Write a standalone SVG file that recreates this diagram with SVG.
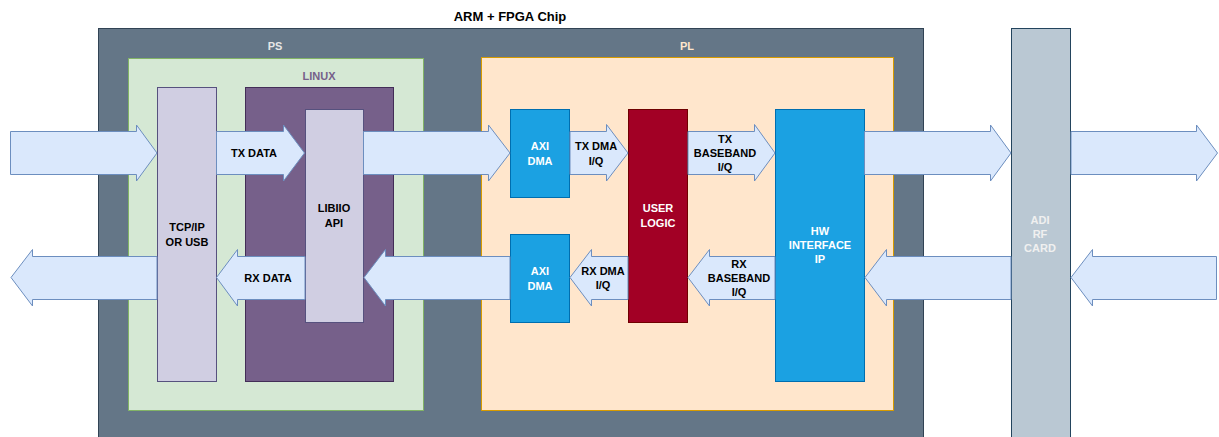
<svg xmlns="http://www.w3.org/2000/svg" width="1219" height="437" viewBox="0 0 1219 437">
<style>
text{font-family:"Liberation Sans",Arial,sans-serif;font-weight:bold;font-size:11px;text-anchor:middle;dominant-baseline:central}
.arrow{fill:#dae8fc;stroke:#6c8ebf;stroke-width:1}
.dark{fill:#000}
.white{fill:#fff}
</style>
<rect width="1219" height="437" fill="#fff"/>
<g id="chip">
<rect x="98.5" y="28.5" width="825" height="420" fill="#647687" stroke="#314354"/>
<text x="510" y="16" class="dark" style="font-size:13px">ARM + FPGA Chip</text>
</g>
<g id="ps">
<rect x="128.5" y="58.5" width="295" height="352" fill="#d5e8d4" stroke="#82b366"/>
<text x="275" y="46" fill="#e6e6e6">PS</text>
</g>
<g id="linux">
<rect x="245.5" y="87.5" width="148" height="294" fill="#76608a" stroke="#432d57"/>
<text x="319" y="76" fill="#76608a">LINUX</text>
</g>
<g id="tcpip">
<rect x="157.5" y="87.5" width="59" height="294" fill="#d0cee2" stroke="#56517e"/>
<text x="187" y="227" class="dark">TCP/IP</text>
<text x="187" y="242" class="dark">OR USB</text>
</g>
<g id="libiio">
<rect x="305.5" y="109.5" width="58" height="213" fill="#d0cee2" stroke="#56517e"/>
<text x="334" y="208" class="dark">LIBIIO</text>
<text x="334" y="223" class="dark">API</text>
</g>
<g id="pl">
<rect x="481.5" y="57.5" width="412" height="353" fill="#ffe6cc" stroke="#d79b00"/>
<text x="687" y="46" fill="#ffe6cc">PL</text>
</g>
<g id="axi_dma_tx">
<rect x="510.5" y="109.5" width="59" height="88" fill="#1ba1e2" stroke="#006eaf"/>
<text x="540" y="146" class="white">AXI</text>
<text x="540" y="161" class="white">DMA</text>
</g>
<g id="axi_dma_rx">
<rect x="510.5" y="234.5" width="59" height="88" fill="#1ba1e2" stroke="#006eaf"/>
<text x="540" y="271" class="white">AXI</text>
<text x="540" y="286" class="white">DMA</text>
</g>
<g id="user_logic">
<rect x="628.5" y="109.5" width="59" height="213" fill="#a20025" stroke="#6f0000"/>
<text x="658" y="208" class="white">USER</text>
<text x="658" y="223" class="white">LOGIC</text>
</g>
<g id="hw_interface">
<rect x="775.5" y="109.5" width="89" height="272" fill="#1ba1e2" stroke="#006eaf"/>
<text x="820" y="231" class="white">HW</text>
<text x="820" y="245" class="white">INTERFACE</text>
<text x="820" y="259" class="white">IP</text>
</g>
<g id="adi_rf_card">
<rect x="1011.5" y="28.5" width="59" height="420" fill="#bac8d3" stroke="#23445d"/>
<text x="1040" y="220" fill="#f0f0f0">ADI</text>
<text x="1040" y="234" fill="#f0f0f0">RF</text>
<text x="1040" y="248" fill="#f0f0f0">CARD</text>
</g>
<g id="connectors">
<!-- TX path (right-pointing) -->
<path class="arrow" d="M10.5 131.5 H136.5 V125 L157 153 L136.5 181 V174.5 H10.5 Z"/>
<path class="arrow" d="M216.5 131.5 H283.5 V125 L304.5 153 L283.5 181 V174.5 H216.5 Z"/>
<path class="arrow" d="M363.5 131.5 H488.5 V125 L510 153 L488.5 181 V174.5 H363.5 Z"/>
<path class="arrow" d="M570 131.5 H606.5 V124.5 L628 153 L606.5 181 V174.5 H570 Z"/>
<path class="arrow" d="M688 131.5 H754.5 V124.5 L775 153 L754.5 181 V174.5 H688 Z"/>
<path class="arrow" d="M864.5 131.5 H990.5 V125 L1011 153 L990.5 181 V174.5 H864.5 Z"/>
<path class="arrow" d="M1071 131.5 H1196.5 V125 L1217.5 153 L1196.5 181 V174.5 H1071 Z"/>
<!-- RX path (left-pointing) -->
<path class="arrow" d="M1216.5 256.5 H1092.5 V249.5 L1071 277.5 L1092.5 306 V299.5 H1216.5 Z"/>
<path class="arrow" d="M1011 256.5 H886.5 V249.5 L865 277.5 L886.5 306 V299.5 H1011 Z"/>
<path class="arrow" d="M775 256.5 H709.5 V249.5 L688 277.5 L709.5 306 V299.5 H775 Z"/>
<path class="arrow" d="M628 256.5 H591.5 V249.5 L570 277.5 L591.5 306 V299.5 H628 Z"/>
<path class="arrow" d="M510 256.5 H385.5 V249.5 L364 277.5 L385.5 306 V299.5 H510 Z"/>
<path class="arrow" d="M305 256.5 H237.5 V249.5 L216.5 277.5 L237.5 306 V299.5 H305 Z"/>
<path class="arrow" d="M157 256.5 H32.5 V249.5 L11 277.5 L32.5 306 V299.5 H157 Z"/>
<!-- labels -->
<text x="254" y="153" class="dark">TX DATA</text>
<text x="596" y="146" class="dark">TX DMA</text>
<text x="596" y="161" class="dark">I/Q</text>
<text x="725" y="139" class="dark">TX</text>
<text x="725" y="153" class="dark">BASEBAND</text>
<text x="725" y="167" class="dark">I/Q</text>
<text x="739" y="264" class="dark">RX</text>
<text x="739" y="278" class="dark">BASEBAND</text>
<text x="739" y="292" class="dark">I/Q</text>
<text x="603" y="271" class="dark">RX DMA</text>
<text x="603" y="285" class="dark">I/Q</text>
<text x="268" y="278" class="dark">RX DATA</text>
</g>
</svg>
